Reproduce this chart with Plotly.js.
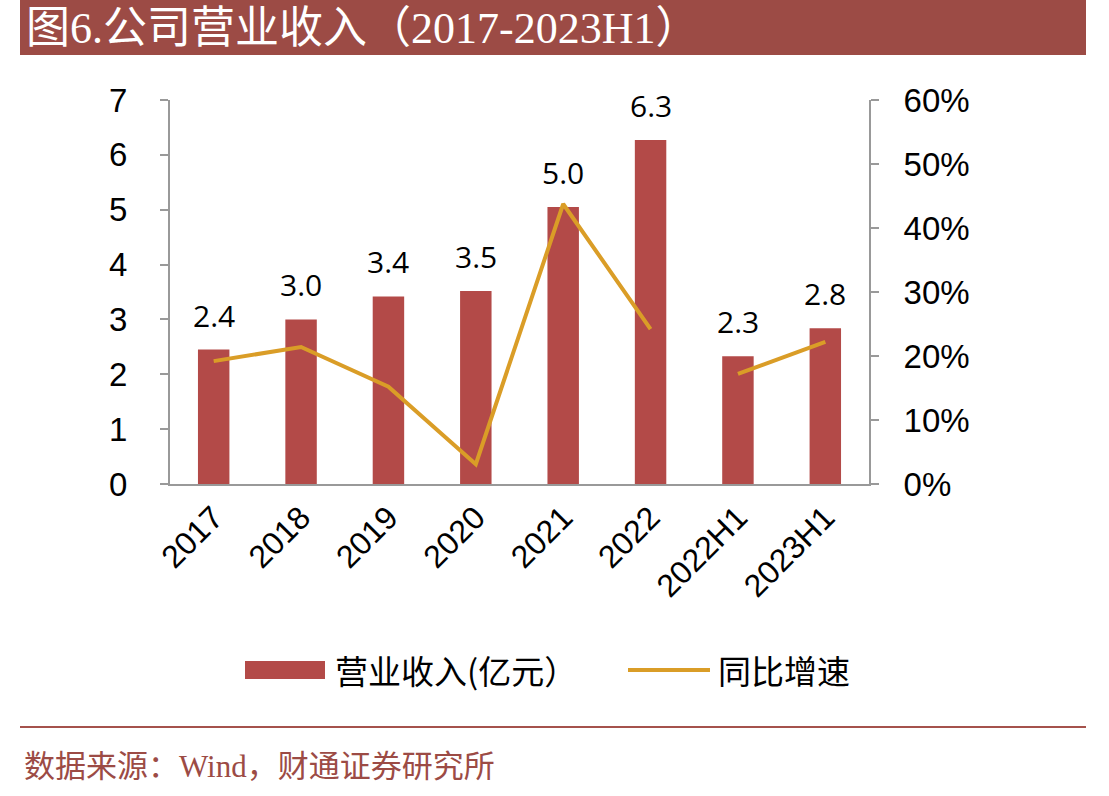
<!DOCTYPE html>
<html>
<head>
<meta charset="utf-8">
<script src="https://cdn.plot.ly/plotly-3.0.1.min.js"></script>
<style>
html,body{margin:0;padding:0;background:#fff;}
#chart{width:1109px;height:796px;}
</style>
</head>
<body>
<div id="chart"></div>
<script>
const categories = ['2017','2018','2019','2020','2021','2022','2022H1','2023H1'];
const revenue = [2.45, 3.0, 3.42, 3.52, 5.05, 6.27, 2.33, 2.84];
const revenueLabels = ['2.4','3.0','3.4','3.5','5.0','6.3','2.3','2.8'];
const growthAnnual = [0.192, 0.214, 0.152, 0.031, 0.4375, 0.242];
const growthHalf = [0.172, 0.222];
const yLeftTicks = [0,1,2,3,4,5,6,7];
const yRightTicks = [0,0.1,0.2,0.3,0.4,0.5,0.6];
const yRightLabels = ['0%','10%','20%','30%','40%','50%','60%'];

const BAR = '#B34A48', LINE = '#DA9D27';

const barTrace = {
  type:'bar', x:categories, y:revenue, name:'营业收入(亿元）',
  marker:{color:BAR}, width:0.36, hoverinfo:'skip', showlegend:false
};
const line1 = {
  type:'scatter', mode:'lines', x:categories.slice(0,6), y:growthAnnual,
  name:'同比增速', yaxis:'y2', line:{color:LINE, width:4}, hoverinfo:'skip', showlegend:false
};
const line2 = {
  type:'scatter', mode:'lines', x:categories.slice(6), y:growthHalf,
  name:'同比增速', yaxis:'y2', line:{color:LINE, width:4}, hoverinfo:'skip', showlegend:false
};

// plot area: x 170..869 (699px), y 100..484 (384px)
const px = v => (v-170)/699;
const py = v => (484-v)/384;

const annotations = categories.map((c,i)=>({
  x:i, y:revenue[i], xref:'x', yref:'y', text:revenueLabels[i], showarrow:false,
  yanchor:'bottom', yshift:12, font:{family:'Open Sans, Noto Sans, sans-serif', size:30, color:'#000'}
}));
annotations.push({
  xref:'paper', yref:'paper', x:px(24), y:py(28), xanchor:'left', yanchor:'middle',
  text:'图6.公司营业收入（2017-2023H1）', showarrow:false,
  font:{family:'Liberation Serif, Noto Sans CJK SC, serif', size:44, color:'#fff'}
});
annotations.push({
  xref:'paper', yref:'paper', x:px(22), y:py(766), xanchor:'left', yanchor:'middle',
  text:'数据来源：Wind，财通证券研究所', showarrow:false,
  font:{family:'Liberation Serif, Noto Sans CJK SC, serif', size:31, color:'#9C4B45'}
});
// legend (custom)
annotations.push({
  xref:'paper', yref:'paper', x:px(333), y:py(670), xanchor:'left', yanchor:'middle',
  text:barTrace.name, showarrow:false,
  font:{family:'Noto Sans CJK SC, sans-serif', size:33, color:'#000'}
});
annotations.push({
  xref:'paper', yref:'paper', x:px(716), y:py(670), xanchor:'left', yanchor:'middle',
  text:line1.name, showarrow:false,
  font:{family:'Noto Sans CJK SC, sans-serif', size:33, color:'#000'}
});

const tickFont = {family:'Liberation Sans, Arial, sans-serif', size:33, color:'#000'};

const layout = {
  width:1109, height:796,
  margin:{l:170, r:240, t:100, b:312},
  paper_bgcolor:'#fff', plot_bgcolor:'#fff',
  showlegend:false,
  bargap:0.64,
  xaxis:{type:'category', categoryorder:'array', categoryarray:categories, range:[-0.5,7.5],
    showline:true, linecolor:'#999', linewidth:2, ticks:'', tickangle:-45,
    tickfont:{family:'Liberation Sans, Arial, sans-serif', size:32, color:'#000'},
    showgrid:false, zeroline:false, fixedrange:true},
  yaxis:{range:[0,7], tickvals:yLeftTicks, showline:true, linecolor:'#999', linewidth:2,
    ticks:'outside', ticklen:8, tickcolor:'#999', tickwidth:2, ticklabelstandoff:26,
    tickfont:tickFont, showgrid:false, zeroline:false},
  yaxis2:{range:[0,0.6], overlaying:'y', side:'right', tickvals:yRightTicks, ticktext:yRightLabels,
    showline:true, linecolor:'#999', linewidth:2, ticks:'outside', ticklen:8, tickcolor:'#999', tickwidth:2,
    ticklabelstandoff:18, tickfont:tickFont, showgrid:false, zeroline:false},
  shapes:[
    {type:'rect', xref:'paper', yref:'paper', x0:px(20), x1:px(1086), y0:py(55), y1:py(0), fillcolor:'#9C4B45', line:{width:0}, layer:'below'},
    {type:'line', xref:'paper', yref:'paper', x0:px(20), x1:px(1086), y0:py(727), y1:py(727), line:{color:'#A5524C', width:2}},
    {type:'rect', xref:'paper', yref:'paper', x0:px(245), x1:px(325), y0:py(679), y1:py(661), fillcolor:BAR, line:{width:0}},
    {type:'line', xref:'paper', yref:'paper', x0:px(628), x1:px(710), y0:py(670), y1:py(670), line:{color:LINE, width:4}}
  ],
  annotations:annotations
};

Plotly.newPlot('chart', [barTrace, line1, line2], layout, {displayModeBar:false, staticPlot:true});
</script>
</body>
</html>
